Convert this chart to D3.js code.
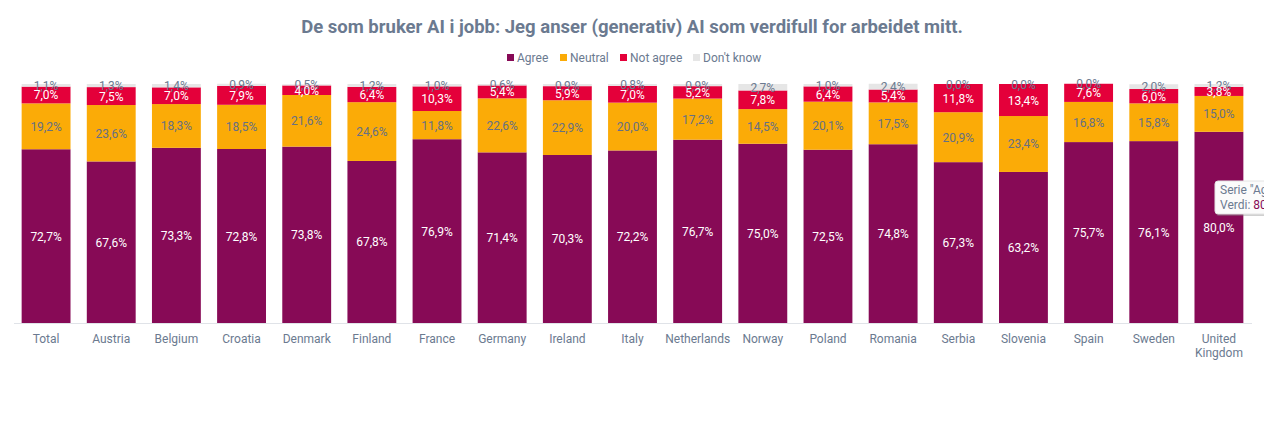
<!DOCTYPE html>
<html>
<head>
<meta charset="utf-8">
<script src="https://cdn.jsdelivr.net/npm/d3@7"></script>
<style>
  html, body { margin: 0; padding: 0; background: #fff; overflow: hidden; }
  text { font-family: Roboto, sans-serif; }
</style>
</head>
<body>
<div id="chart"></div>
<script>
var countries = ["Total", "Austria", "Belgium", "Croatia", "Denmark", "Finland", "France", "Germany", "Ireland", "Italy", "Netherlands", "Norway", "Poland", "Romania", "Serbia", "Slovenia", "Spain", "Sweden", "United Kingdom"];
var seriesNames = ["Agree", "Neutral", "Not agree", "Don't know"];
var agree = [72.7, 67.6, 73.3, 72.8, 73.8, 67.8, 76.9, 71.4, 70.3, 72.2, 76.7, 75.0, 72.5, 74.8, 67.3, 63.2, 75.7, 76.1, 80.0];
var neutral = [19.2, 23.6, 18.3, 18.5, 21.6, 24.6, 11.8, 22.6, 22.9, 20.0, 17.2, 14.5, 20.1, 17.5, 20.9, 23.4, 16.8, 15.8, 15.0];
var notAgree = [7.0, 7.5, 7.0, 7.9, 4.0, 6.4, 10.3, 5.4, 5.9, 7.0, 5.2, 7.8, 6.4, 5.4, 11.8, 13.4, 7.6, 6.0, 3.8];
var dontKnow = [1.1, 1.3, 1.4, 0.9, 0.5, 1.2, 1.0, 0.6, 0.9, 0.8, 0.9, 2.7, 1.0, 2.4, 0.0, 0.0, 0.0, 2.0, 1.2];

var width = 1264;
var height = 435;
var titleText = "De som bruker AI i jobb: Jeg anser (generativ) AI som verdifull for arbeidet mitt.";
var colors = ["#870a56", "#fbab07", "#e4003a", "#e6e6e6"];
var labelColors = ["#ffffff", "#667085", "#ffffff", "#6b7a90"];
var textColor = "#6b7a90";

var svg = d3.select("#chart").append("svg")
    .attr("width", width)
    .attr("height", height)
    .style("display", "block");

svg.append("text")
    .attr("x", 632)
    .attr("y", 33)
    .attr("text-anchor", "middle")
    .attr("font-size", 18.5)
    .attr("font-weight", 700)
    .attr("fill", textColor)
    .text(titleText);

// Legend
var legendX = [507, 560, 620, 693];
var legend = svg.selectAll(".legend")
    .data(seriesNames)
    .enter()
    .append("g")
    .attr("class", "legend")
    .attr("transform", function(d, i) { return "translate(" + legendX[i] + ",53)"; });

legend.append("rect")
    .attr("width", 7)
    .attr("height", 7)
    .attr("y", 1)
    .attr("fill", function(d, i) { return colors[i]; });

legend.append("text")
    .attr("x", 10)
    .attr("y", 9)
    .attr("font-size", 12)
    .attr("fill", textColor)
    .text(function(d) { return d; });

var x = d3.scaleBand()
    .domain(countries)
    .range([13.5, 1251.5])
    .paddingInner(0.25)
    .paddingOuter(0.125);

var y = d3.scaleLinear()
    .domain([0, 100])
    .range([323, 84]);

var rows = countries.map(function(c, i) {
  return { country: c, "Agree": agree[i], "Neutral": neutral[i], "Not agree": notAgree[i], "Don't know": dontKnow[i] };
});

var stacked = d3.stack().keys(seriesNames)(rows);

var groups = svg.selectAll(".series")
    .data(stacked)
    .enter()
    .append("g")
    .attr("class", "series");

groups.selectAll("rect")
    .data(function(d) { return d; })
    .enter()
    .append("rect")
    .attr("x", function(d) { return x(d.data.country); })
    .attr("width", x.bandwidth())
    .attr("y", function(d) { return y(d[1]); })
    .attr("height", function(d) { return y(d[0]) - y(d[1]); })
    .attr("fill", function(d, i, nodes) { return colors[seriesNames.indexOf(nodes[i].parentNode.__data__.key)]; });

// Data labels, top series first so the lower series' labels land on top
var labelGroups = svg.selectAll(".labels")
    .data(stacked.slice().reverse())
    .enter()
    .append("g")
    .attr("class", "labels")
    .attr("fill", function(d) { return labelColors[d.index]; });

labelGroups.selectAll("text")
    .data(function(d) { return d; })
    .enter()
    .append("text")
    .attr("x", function(d) { return x(d.data.country) + x.bandwidth() / 2; })
    .attr("y", function(d) { return (y(d[0]) + y(d[1])) / 2 + 4.5; })
    .attr("text-anchor", "middle")
    .attr("font-size", 12)
    .text(function(d) { return (d[1] - d[0]).toFixed(1).replace(".", ",") + "%"; });

// Axis
var xAxis = d3.axisBottom(x).tickSize(0).tickPadding(11);
var axisG = svg.append("g")
    .attr("transform", "translate(0,323)")
    .call(xAxis);

axisG.select(".domain").attr("stroke", "#e0e3e8").attr("stroke-width", 1);
axisG.selectAll("text")
    .attr("font-size", 12)
    .attr("font-family", "Roboto, sans-serif")
    .attr("fill", textColor)
    .each(function(d) {
      var words = d.split(" ");
      if (words.length > 1) {
        var t = d3.select(this).text(null);
        words.forEach(function(w, i) {
          t.append("tspan")
              .attr("x", 0)
              .attr("dy", i == 0 ? "0.71em" : "1.17em")
              .text(w);
        });
        t.attr("dy", null);
      }
    });

// Tooltip left on the last bar, runs off the page like in the screenshot
var lastCountry = countries[countries.length - 1];
var tip = svg.append("g").attr("transform", "translate(1215,181)");

tip.append("rect")
    .attr("x", 1)
    .attr("y", 1)
    .attr("width", 110)
    .attr("height", 34)
    .attr("rx", 3)
    .attr("fill", "#8a8a8a")
    .attr("opacity", 0.4);

tip.append("rect")
    .attr("width", 110)
    .attr("height", 33)
    .attr("rx", 3)
    .attr("fill", "#fbfbfb")
    .attr("stroke", "#e4e4e4");

tip.append("text")
    .attr("x", 5)
    .attr("y", 13)
    .attr("font-size", 12)
    .attr("fill", textColor)
    .text('Serie "' + seriesNames[0] + '"');

var tipValue = tip.append("text")
    .attr("x", 5)
    .attr("y", 28)
    .attr("font-size", 12)
    .attr("fill", textColor);
tipValue.append("tspan").text("Verdi: ");
tipValue.append("tspan")
    .attr("fill", colors[0])
    .text(agree[countries.indexOf(lastCountry)].toFixed(1).replace(".", ",") + "%");
</script>
</body>
</html>
